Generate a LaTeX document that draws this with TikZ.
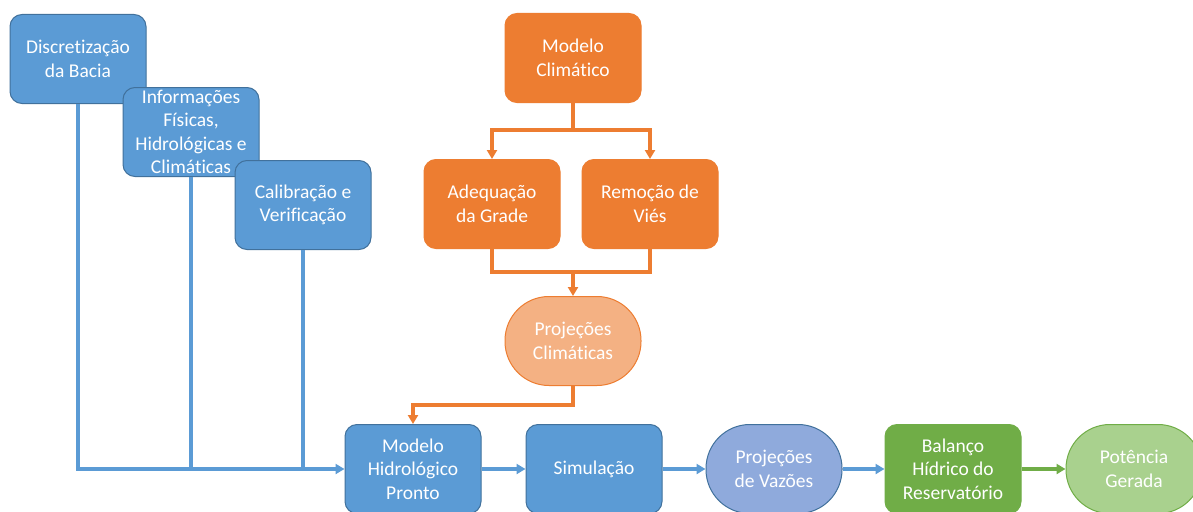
\documentclass[tikz,border=0pt]{standalone}
\usepackage{fontspec}
\setmainfont{Carlito}[Ligatures={NoCommon}]
\usetikzlibrary{arrows.meta}
\definecolor{cblue}{HTML}{5B9BD5}
\definecolor{cblueb}{HTML}{41719C}
\definecolor{corange}{HTML}{ED7D31}
\definecolor{clorange}{HTML}{F4B183}
\definecolor{cperi}{HTML}{8FAADC}
\definecolor{cperib}{HTML}{41719C}
\definecolor{cgreen}{HTML}{70AD47}
\definecolor{clgreen}{HTML}{A9D18E}
\begin{document}
\begin{tikzpicture}[x=1pt,y=-1pt,
  box/.style={rectangle, rounded corners=12pt, minimum width=136pt, minimum height=89pt,
    inner sep=1pt, align=center, text=white, font=\fontsize{19.5}{23.5}\selectfont, line width=1pt},
  bluebox/.style={box, fill=cblue, draw=cblueb},
  orbox/.style={box, fill=corange, draw=corange},
  greenbox/.style={box, fill=cgreen, draw=cgreen},
  stad/.style={box, rounded corners=44pt},
  bline/.style={draw=cblue, line width=3.4pt},
  oline/.style={draw=corange, line width=3.4pt},
  gline/.style={draw=cgreen, line width=3.4pt},
  tip/.style={-{Triangle[length=9pt,width=10pt]}}
]
\useasboundingbox (0,0) rectangle (1193,511);
\fill[white] (0,0) rectangle (1193,511);

% left blue stack
\node[bluebox] (disc) at (78,59) {Discretização\\da Bacia};
\node[bluebox] (info) at (191,132) {Informações\\Físicas,\\Hidrológicas e\\Climáticas};
\node[bluebox] (cal) at (303,205) {Calibração e\\Verificação};

% orange part
\node[orbox] (mc) at (573,58) {Modelo\\Climático};
\node[orbox] (adq) at (492,204) {Adequação\\da Grade};
\node[orbox] (rem) at (650,204) {Remoção de\\Viés};
\node[stad, fill=clorange, draw=corange] (pc) at (573,341) {Projeções\\Climáticas};

% bottom row
\node[bluebox] (mh) at (413,469) {Modelo\\Hidrológico\\Pronto};
\node[bluebox] (sim) at (594,469) {Simulação};
\node[stad, fill=cperi, draw=cperib] (pv) at (774,469) {Projeções\\de Vazões};
\node[greenbox] (bal) at (953,469) {Balanço\\Hídrico do\\Reservatório};
\node[stad, fill=clgreen, draw=cgreen] (pot) at (1134,469) {Potência\\Gerada};

% junction coordinates
\coordinate (j1) at (573,130);
\coordinate (j2) at (573,272);
\coordinate (j3) at (573,405);

% blue connectors into Modelo Hidrológico
\draw[bline, tip] (disc.south) |- (mh.west);
\draw[bline] (info.south) -- (info.south |- mh.west);
\draw[bline] (cal.south) -- (cal.south |- mh.west);

% orange connectors
\draw[oline] (mc.south) -- (j1);
\draw[oline, tip] (j1) -| (adq.north);
\draw[oline, tip] (j1) -| (rem.north);
\draw[oline] (adq.south) |- (j2);
\draw[oline] (rem.south) |- (j2);
\draw[oline, tip] (j2) -- (pc.north);
\draw[oline, tip] (pc.south) -- (j3) -| (mh.north);

% bottom row arrows
\draw[bline, tip] (mh.east) -- (sim.west);
\draw[bline, tip] (sim.east) -- (pv.west);
\draw[bline, tip] (pv.east) -- (bal.west);
\draw[gline, tip] (bal.east) -- (pot.west);
\end{tikzpicture}
\end{document}
